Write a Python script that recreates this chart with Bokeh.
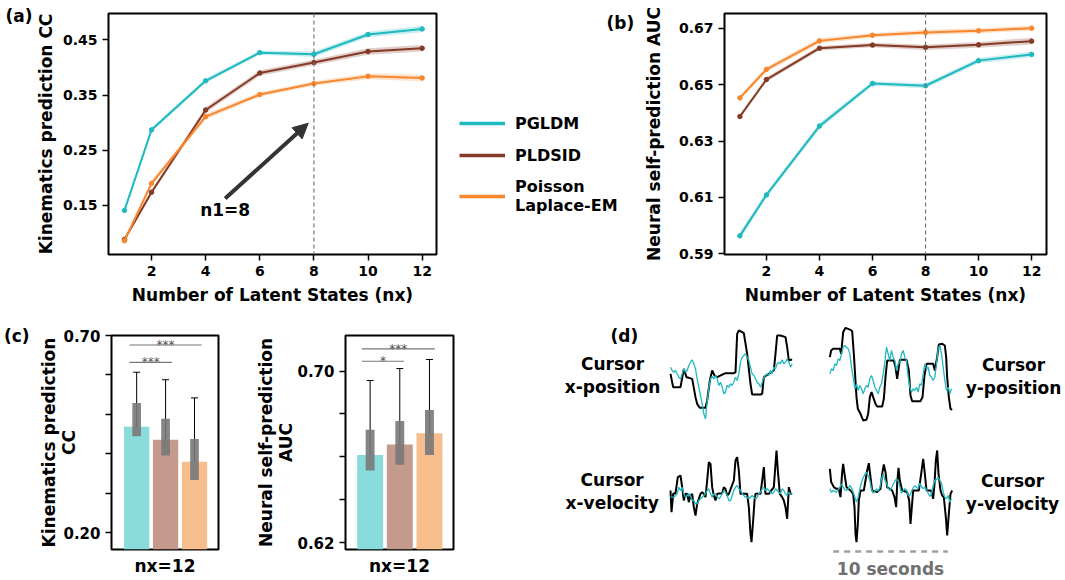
import numpy as np
from bokeh.plotting import figure
from bokeh.layouts import row, column
from bokeh.models import (Range1d, Span, Arrow, NormalHead, Legend, LegendItem, LinearAxis,
                          FixedTicker, ColumnDataSource, Whisker, TeeHead)
from bokeh.core.properties import value
from bokeh.embed import file_html
from bokeh.resources import INLINE

FONT = "DejaVu Sans"
TEAL = "#1fb9bf"
BROWN = "#843a26"
ORANGE = "#f8862c"
TEAL_L = "#8adcdc"
BROWN_L = "#c49a8c"
ORANGE_L = "#f6be8c"

# ---------------- data ----------------
methods = ["PGLDM", "PLDSID", "Poisson\nLaplace-EM"]
nx = [1, 2, 4, 6, 8, 10, 12]

kin_pgldm = [0.141, 0.287, 0.376, 0.427, 0.424, 0.460, 0.470]
kin_pldsid = [0.088, 0.174, 0.323, 0.390, 0.409, 0.429, 0.435]
kin_plem = [0.086, 0.190, 0.311, 0.351, 0.371, 0.384, 0.381]
kin_sem_pgldm = [0.003, 0.004, 0.004, 0.004, 0.005, 0.005, 0.006]
kin_sem_pldsid = [0.003, 0.004, 0.005, 0.005, 0.005, 0.006, 0.006]
kin_sem_plem = [0.003, 0.005, 0.005, 0.004, 0.004, 0.005, 0.006]

auc_pgldm = [0.5964, 0.6109, 0.6353, 0.6504, 0.6496, 0.6585, 0.6607]
auc_pldsid = [0.6387, 0.6518, 0.6629, 0.6640, 0.6632, 0.6641, 0.6654]
auc_plem = [0.6453, 0.6554, 0.6655, 0.6675, 0.6685, 0.6691, 0.6700]
auc_sem_pgldm = [0.0013, 0.0010, 0.0010, 0.0008, 0.0009, 0.0009, 0.0010]
auc_sem_pldsid = [0.0008, 0.0008, 0.0008, 0.0008, 0.0009, 0.0010, 0.0012]
auc_sem_plem = [0.0008, 0.0009, 0.0009, 0.0008, 0.0009, 0.0009, 0.0009]

n1 = 8

# panel (c): nx = 12
c_pos = [0, 1, 2]
c_kin_mean = [0.469, 0.436, 0.380]
c_kin_q1 = [0.445, 0.396, 0.334]
c_kin_q3 = [0.529, 0.489, 0.438]
c_kin_lo = [0.332, 0.273, 0.252]
c_kin_hi = [0.607, 0.588, 0.542]
c_kin_sig_y = [0.676, 0.632]
c_kin_sig_x0 = [-0.25, -0.25]
c_kin_sig_x1 = [2.25, 1.22]
c_kin_sig_text = ["***", "***"]

c_auc_mean = [0.6609, 0.6658, 0.6710]
c_auc_q1 = [0.6536, 0.6563, 0.6609]
c_auc_q3 = [0.6726, 0.6767, 0.6818]
c_auc_lo = [0.6303, 0.6289, 0.6358]
c_auc_hi = [0.6956, 0.7012, 0.7054]
c_auc_sig_y = [0.7104, 0.7046]
c_auc_sig_x0 = [-0.28, -0.28]
c_auc_sig_x1 = [2.18, 1.14]
c_auc_sig_text = ["***", "*"]

# panel (d): decoded traces (time in samples, ~34.4 samples/s; amplitude a.u.)
xpos_true_t = [0, 8, 30, 40, 48, 55, 65, 75, 80, 88, 105, 110, 118, 125, 132, 140, 160, 165, 190, 195,
               200, 205, 215, 220, 230, 240, 245, 270, 275, 280, 290, 310, 315, 320, 330, 345, 350, 355, 360, 365]
xpos_true = [0.40, 0.00, 0.00, 0.55, 0.30, 0.28, 0.25, -0.30, -0.50, -0.62, -0.62, -0.40, 0.20, 0.50, 0.35, 0.30,
             0.40, 0.42, 0.42, 0.45, 1.60, 1.70, 1.65, 1.62, 1.00, 0.10, -0.22, -0.22, -0.20, 0.30, 0.37, 0.50,
             1.00, 1.55, 1.55, 1.50, 1.20, 0.80, 0.82, 0.82]
xpos_dec = [0.60, 0.50, 0.45, 0.50, 0.40, 0.30, 0.25, 0.40, 0.55, 0.45, 0.50, 0.65, 0.75, 0.82, 0.70, 0.55,
            0.25, 0.00, -0.25, -0.50, -0.80, -0.95, -0.45, 0.00, 0.25, 0.32, 0.25, 0.35, 0.25, 0.05, 0.15,
            0.00, -0.20, -0.15, 0.05, 0.00, 0.10, 0.05, 0.15, 0.30, 0.20, 0.40, 0.75, 0.90, 0.95, 1.00, 0.90,
            0.80, 0.60, 0.40, 0.35, 0.25, 0.15, 0.10, 0.00, 0.15, 0.30, 0.35, 0.40, 0.35, 0.50, 0.40, 0.60,
            0.55, 0.70, 0.75, 0.70, 0.82, 0.70, 0.75, 0.85, 0.75, 0.60, 0.70]

ypos_true_t = [0, 4, 10, 30, 34, 40, 47, 62, 67, 72, 80, 84, 92, 100, 110, 115, 120, 125, 130, 137, 142, 157,
               162, 167, 172, 192, 197, 202, 207, 210, 230, 237, 242, 247, 272, 278, 284, 290, 310, 315, 322,
               327, 337, 345, 349, 352, 357, 362, 367]
ypos_true = [0.90, 1.10, 1.15, 1.15, 1.00, 1.65, 1.78, 1.72, 1.68, 1.00, -0.30, -0.65, -0.80, -1.00, -0.98,
             -0.80, -0.30, -0.15, -0.30, -0.50, -0.58, -0.58, -0.35, 0.30, 0.80, 0.80, 0.60, 0.25, 0.60, 0.82,
             0.82, 0.50, -0.25, -0.42, -0.42, -0.30, 0.35, 0.70, 0.70, 0.50, 0.90, 1.28, 1.30, 1.25, 0.90,
             0.30, -0.30, -0.65, -0.68]
ypos_dec = [0.40, 0.55, 0.50, 0.70, 0.65, 0.85, 0.80, 1.00, 1.20, 1.25, 1.20, 1.15, 1.00, 0.60, 0.30, -0.05,
            0.10, -0.10, 0.05, -0.05, -0.20, -0.05, 0.05, 0.00, 0.25, 0.35, 0.20, 0.00, -0.10, -0.20, 0.00,
            0.10, 0.40, 0.75, 1.20, 1.00, 0.80, 1.10, 0.90, 0.80, 0.50, 0.70, 0.75, 1.00, 1.10, 0.90, 0.80,
            0.30, 0.00, -0.15, -0.05, -0.10, 0.00, -0.15, 0.10, 0.05, 0.40, 0.70, 0.55, 0.60, 0.35, 0.30,
            0.20, 0.30, 0.70, 1.15, 1.25, 1.00, 0.60, 0.20, -0.10, 0.00, -0.20, -0.05]

xvel_true_t = [0, 3, 8, 15, 22, 30, 35, 40, 45, 50, 55, 60, 65, 70, 75, 80, 90, 95, 100, 105, 110, 115, 120,
               125, 130, 135, 140, 155, 160, 165, 170, 175, 190, 195, 200, 205, 210, 230, 235, 240, 243, 248,
               252, 255, 270, 275, 280, 285, 295, 310, 315, 318, 322, 328, 335, 340, 345, 350, 355, 360, 365]
xvel_true = [0.10, -0.55, 0.00, 0.02, 0.50, 0.55, 0.20, -0.20, 0.00, 0.00, -0.25, -0.05, 0.00, -0.40, -0.65,
             -0.30, 0.00, 0.05, 0.00, -0.10, 0.40, 0.95, 0.90, 0.20, -0.05, -0.20, 0.00, 0.02, 0.20, 0.15,
             -0.05, 0.00, 0.40, 1.00, 1.10, 0.70, 0.00, 0.00, -0.40, -1.20, -1.45, -0.80, -0.20, 0.00, 0.00,
             0.40, 0.80, 0.00, 0.00, 0.20, 0.90, 1.30, 0.70, 0.00, -0.10, -0.20, -0.40, -0.75, 0.20, 0.00, 0.00]
xvel_dec = [-0.10, -0.10, -0.10, -0.05, 0.00, 0.20, 0.10, 0.20, 0.00, -0.10, -0.05, 0.00, -0.05, -0.20, -0.20,
            -0.30, -0.30, -0.20, -0.15, -0.10, -0.05, 0.00, 0.10, 0.15, 0.00, -0.10, 0.00, 0.00, -0.10, -0.15,
            -0.10, 0.00, 0.10, 0.05, -0.05, -0.20, -0.20, -0.05, 0.10, 0.20, 0.25, 0.15, 0.10, 0.00, -0.05,
            -0.10, -0.10, -0.15, -0.10, -0.05, -0.10, -0.15, -0.10, 0.00, 0.05, 0.15, 0.20, 0.10, 0.15, 0.10,
            0.05, 0.00, 0.05, 0.15, 0.10, 0.05, 0.00, 0.15, 0.10, 0.00, -0.05, 0.05, 0.00, 0.00]

yvel_true_t = [0, 4, 7, 12, 20, 27, 32, 37, 40, 44, 50, 62, 70, 74, 77, 80, 84, 87, 92, 102, 107, 112, 117,
               122, 127, 142, 152, 157, 162, 167, 172, 187, 194, 199, 202, 206, 210, 217, 232, 238, 242, 246,
               250, 267, 274, 280, 284, 290, 304, 310, 314, 318, 322, 326, 332, 337, 342, 348, 352, 357, 362, 367]
yvel_true = [0.65, 0.25, 0.20, 0.10, 0.05, 0.05, -0.20, 0.55, 0.80, 0.50, 0.10, 0.00, -0.10, -0.50, -1.30,
             -1.55, -1.00, -0.30, 0.00, 0.00, 0.30, 0.60, 0.82, 0.40, 0.00, -0.05, 0.05, 0.50, 0.78, 0.55,
             0.10, 0.00, -0.20, -0.50, 0.20, 0.68, 0.30, 0.00, -0.05, -0.30, -1.00, -0.50, 0.00, 0.00, 0.50,
             0.95, 0.60, 0.00, 0.00, -0.25, 0.20, 0.90, 1.20, 0.50, 0.00, -0.15, -0.20, -0.80, -1.35, -0.70,
             -0.10, 0.00]
yvel_dec = [0.05, -0.05, 0.00, -0.02, -0.05, 0.02, 0.10, 0.20, 0.10, 0.02, 0.00, 0.05, 0.15, 0.08, -0.05,
            -0.20, -0.35, -0.20, 0.05, 0.25, 0.38, 0.48, 0.55, 0.45, 0.30, 0.05, -0.08, -0.02, 0.05, -0.02,
            0.08, 0.35, 0.50, 0.32, 0.22, 0.08, 0.00, 0.08, 0.18, 0.28, 0.35, 0.28, 0.12, -0.08, 0.00, 0.05,
            0.02, -0.15, -0.15, -0.02, 0.08, 0.14, 0.10, 0.05, 0.22, 0.12, 0.05, 0.10, 0.02, -0.08, -0.18,
            -0.10, 0.15, 0.32, 0.32, 0.40, 0.30, 0.22, -0.05, -0.20, -0.25, -0.15, -0.35, -0.25]
dec_step = 5          # decoded trace sample spacing
scale_bar_len = 344   # samples in 10 seconds


def style(p, tick_size="14px"):
    p.outline_line_color = "black"
    p.outline_line_width = 2
    p.grid.visible = False
    p.background_fill_color = "white"
    p.border_fill_color = "white"
    for ax in p.axis:
        ax.axis_line_color = None
        ax.major_tick_line_color = "black"
        ax.major_tick_line_width = 1.5
        ax.major_tick_out = 6
        ax.major_tick_in = 0
        ax.minor_tick_line_color = None
        ax.major_label_text_font = FONT
        ax.major_label_text_font_style = "bold"
        ax.major_label_text_font_size = tick_size
        ax.major_label_text_color = "black"
        ax.axis_label_text_font = FONT
        ax.axis_label_text_font_style = "bold"
        ax.axis_label_text_font_size = "17px"
        ax.axis_label_text_color = "black"
        ax.axis_label_text_line_height = 1.0
        ax.axis_label_standoff = 6


def curves(p, means, sems, colors):
    for m, s, c in zip(means, sems, colors):
        m = np.array(m); s = np.array(s)
        p.varea(x=nx, y1=m - s, y2=m + s, fill_color=c, fill_alpha=0.25)
        p.line(nx, m, line_color=c, line_width=2)
        p.scatter(nx, m, size=4.5, color=c)


def panel_label(p, y, text, standoff):
    # panel letter drawn as the single tick label of an extra, otherwise invisible left axis
    ax = LinearAxis(ticker=FixedTicker(ticks=[y]), major_label_overrides={y: text})
    ax.axis_line_color = None
    ax.major_tick_line_color = None
    ax.minor_tick_line_color = None
    ax.major_tick_out = 0
    ax.major_tick_in = 0
    ax.major_label_standoff = standoff
    ax.major_label_text_font = FONT
    ax.major_label_text_font_style = "bold"
    ax.major_label_text_font_size = "17px"
    ax.major_label_text_color = "black"
    p.add_layout(ax, "left")


colors = [TEAL, BROWN, ORANGE]

# ---------------- panel (a) ----------------
pa = figure(width=445, height=315, x_range=Range1d(0.41, 12.53), y_range=Range1d(0.061, 0.498),
            output_backend="svg", toolbar_location=None,
            min_border_left=108, min_border_right=9, min_border_top=10, min_border_bottom=60)
curves(pa, [kin_pgldm, kin_pldsid, kin_plem], [kin_sem_pgldm, kin_sem_pldsid, kin_sem_plem], colors)
pa.add_layout(Span(location=n1, dimension="height", line_color="#777777", line_dash="4 3", line_width=1.2))
pa.add_layout(Arrow(end=NormalHead(size=15, fill_color="#333333", line_color="#333333"),
                    x_start=4.72, y_start=0.1625, x_end=7.79, y_end=0.299,
                    line_color="#333333", line_width=4))
pa.text(x=[4.72], y=[0.141], text=["n1=%d" % n1], text_font=value(FONT), text_font_style="bold",
        text_font_size="17px", text_align="center", text_baseline="middle")
style(pa)
pa.xaxis.ticker = FixedTicker(ticks=[2, 4, 6, 8, 10, 12])
pa.yaxis.ticker = FixedTicker(ticks=[0.15, 0.25, 0.35, 0.45])
pa.xaxis.axis_label = "Number of Latent States (nx)"
pa.yaxis.axis_label = "Kinematics prediction CC"
pa.yaxis.axis_label_standoff = 4
panel_label(pa, 0.4926, "(a)", 0)

# ---------------- legend (and the "(b)" tag that sits above it) ----------------
pleg = figure(width=195, height=315, x_range=Range1d(0, 195), y_range=Range1d(0, 315),
              output_backend="svg", toolbar_location=None,
              x_axis_location=None, y_axis_location=None,
              min_border_left=0, min_border_right=0, min_border_top=0, min_border_bottom=0)
pleg.outline_line_color = None
pleg.grid.visible = False
leg_rs = [pleg.line([-2, -1], [-2, -2], line_color=c, line_width=3.5) for c in colors]
legend = Legend(items=[LegendItem(label=m, renderers=[r]) for m, r in zip(methods, leg_rs)],
                location=(14, 39))
legend.label_text_font = FONT
legend.label_text_font_style = "bold"
legend.label_text_font_size = "16px"
legend.label_text_color = "black"
legend.glyph_width = 46
legend.glyph_height = 20
legend.label_standoff = 10
legend.spacing = 12
legend.padding = 0
legend.margin = 0
legend.border_line_color = None
legend.background_fill_alpha = 0
pleg.add_layout(legend)
pleg.text(x=[161], y=[302], text=["(b)"], text_font=value(FONT), text_font_style="bold",
          text_font_size="17px", text_align="left", text_baseline="middle")

# ---------------- panel (b) ----------------
pb = figure(width=425, height=315, x_range=Range1d(0.42, 12.56), y_range=Range1d(0.5898, 0.6752),
            output_backend="svg", toolbar_location=None,
            min_border_left=81, min_border_right=19, min_border_top=13, min_border_bottom=61)
curves(pb, [auc_pgldm, auc_pldsid, auc_plem], [auc_sem_pgldm, auc_sem_pldsid, auc_sem_plem], colors)
pb.add_layout(Span(location=n1, dimension="height", line_color="#777777", line_dash="4 3", line_width=1.2))
style(pb)
pb.xaxis.ticker = FixedTicker(ticks=[2, 4, 6, 8, 10, 12])
pb.yaxis.ticker = FixedTicker(ticks=[0.59, 0.61, 0.63, 0.65, 0.67])
pb.xaxis.axis_label = "Number of Latent States (nx)"
pb.yaxis.axis_label = "Neural self-prediction AUC"
pb.yaxis.axis_label_standoff = 12


# ---------------- panel (c) ----------------
def bars(p, mean, q1, q3, lo, hi, sig_y, sig_x0, sig_x1, sig_text):
    p.vbar(x=c_pos, top=mean, bottom=0, width=0.875, fill_color=[TEAL_L, BROWN_L, ORANGE_L],
           line_color=None)
    p.vbar(x=c_pos, bottom=q1, top=q3, width=0.3, fill_color="#787878", fill_alpha=0.9, line_color=None)
    src = ColumnDataSource(dict(base=c_pos, lower=lo, upper=hi))
    p.add_layout(Whisker(source=src, base="base", lower="lower", upper="upper",
                         line_color="black", line_width=1,
                         upper_head=TeeHead(size=7, line_color="black", line_width=1),
                         lower_head=TeeHead(size=7, line_color="black", line_width=1)))
    p.segment(x0=sig_x0, y0=sig_y, x1=sig_x1, y1=sig_y, line_color="#777777", line_width=1.2)
    mids = [(a + b) / 2 for a, b in zip(sig_x0, sig_x1)]
    p.text(x=mids, y=sig_y, text=sig_text, text_font=value(FONT), text_font_size="12px",
           text_color="#555555", text_align="center", text_baseline="alphabetic")


pc1 = figure(width=230, height=265, x_range=Range1d(-0.87, 2.83), y_range=Range1d(0.158, 0.70),
             output_backend="svg", toolbar_location=None,
             min_border_left=108, min_border_right=12, min_border_top=20, min_border_bottom=31)
bars(pc1, c_kin_mean, c_kin_q1, c_kin_q3, c_kin_lo, c_kin_hi,
     c_kin_sig_y, c_kin_sig_x0, c_kin_sig_x1, c_kin_sig_text)
style(pc1, "15px")
pc1.yaxis.ticker = FixedTicker(ticks=[0.2, 0.3, 0.4, 0.5, 0.6, 0.7])
pc1.yaxis.major_label_overrides = {0.2: "0.20", 0.3: "", 0.4: "", 0.5: "", 0.6: "", 0.7: "0.70"}
pc1.yaxis.axis_label = "Kinematics prediction\nCC"
pc1.yaxis.axis_label_standoff = -19
pc1.xaxis.ticker = FixedTicker(ticks=[])
pc1.xaxis.major_tick_out = 0
pc1.xaxis.major_label_standoff = 0
pc1.xaxis.axis_label = "nx=12"
panel_label(pc1, 0.6995, "(c)", 7)

pc2 = figure(width=240, height=265, x_range=Range1d(-0.83, 2.81), y_range=Range1d(0.6168, 0.7166),
             output_backend="svg", toolbar_location=None,
             min_border_left=115, min_border_right=17, min_border_top=17, min_border_bottom=31)
bars(pc2, c_auc_mean, c_auc_q1, c_auc_q3, c_auc_lo, c_auc_hi,
     c_auc_sig_y, c_auc_sig_x0, c_auc_sig_x1, c_auc_sig_text)
style(pc2, "15px")
pc2.yaxis.ticker = FixedTicker(ticks=[0.62, 0.64, 0.66, 0.68, 0.70])
pc2.yaxis.major_label_overrides = {0.62: "0.62", 0.64: "", 0.66: "", 0.68: "", 0.7: "0.70"}
pc2.yaxis.axis_label = "Neural self-prediction\nAUC"
pc2.yaxis.axis_label_standoff = -2
pc2.xaxis.ticker = FixedTicker(ticks=[])
pc2.xaxis.major_tick_out = 0
pc2.xaxis.major_label_standoff = 0
pc2.xaxis.axis_label = "nx=12"


# ---------------- panel (d) ----------------
def trace_fig(w, h, xr, yr):
    p = figure(width=w, height=h, x_range=Range1d(*xr), y_range=Range1d(*yr),
               output_backend="svg", toolbar_location=None,
               x_axis_location=None, y_axis_location=None,
               min_border_left=0, min_border_right=0, min_border_top=0, min_border_bottom=0)
    p.outline_line_color = None
    p.grid.visible = False
    p.background_fill_color = "white"
    p.border_fill_color = "white"
    return p


def traces(p, t_true, v_true, v_dec):
    p.line(t_true, v_true, line_color="black", line_width=2)
    t_dec = np.arange(len(v_dec)) * dec_step
    p.line(t_dec, v_dec, line_color=TEAL, line_width=1.3)


def dtext(p, x, y, s, align="center", color="black"):
    p.text(x=[x], y=[y], text=[s], text_font=value(FONT), text_font_style="bold",
           text_font_size="17px", text_align=align, text_baseline="middle",
           text_color=color, text_line_height=1.15)


d_tl = trace_fig(330, 130, (-600, 390), (-1.75, 2.15))
traces(d_tl, xpos_true_t, xpos_true, xpos_dec)
dtext(d_tl, -180, 1.55, "(d)", align="left")
dtext(d_tl, -174, 0.35, "Cursor\nx-position")

d_tr = trace_fig(265, 130, (-88, 707), (-1.75, 2.15))
traces(d_tr, ypos_true_t, ypos_true, ypos_dec)
dtext(d_tr, 551, 0.32, "Cursor\ny-position")

d_bl = trace_fig(330, 135, (-600, 390), (-2.6, 1.45))
traces(d_bl, xvel_true_t, xvel_true, xvel_dec)
dtext(d_bl, -175, 0.07, "Cursor\nx-velocity")

d_br = trace_fig(265, 135, (-88, 707), (-2.7, 1.35))
traces(d_br, yvel_true_t, yvel_true, yvel_dec)
dtext(d_br, 548, -0.05, "Cursor\ny-velocity")
d_br.segment(x0=[10], y0=[-1.83], x1=[10 + scale_bar_len], y1=[-1.83], line_color="#a0a0a0",
             line_width=2.5, line_dash="6 5")
dtext(d_br, 10 + scale_bar_len / 2, -2.35, "10 seconds", color="#707070")

layout = column(row(pa, pleg, pb), row(pc1, pc2, column(row(d_tl, d_tr), row(d_bl, d_br))))

with open("out.html", "w") as f:
    f.write(file_html(layout, INLINE))
